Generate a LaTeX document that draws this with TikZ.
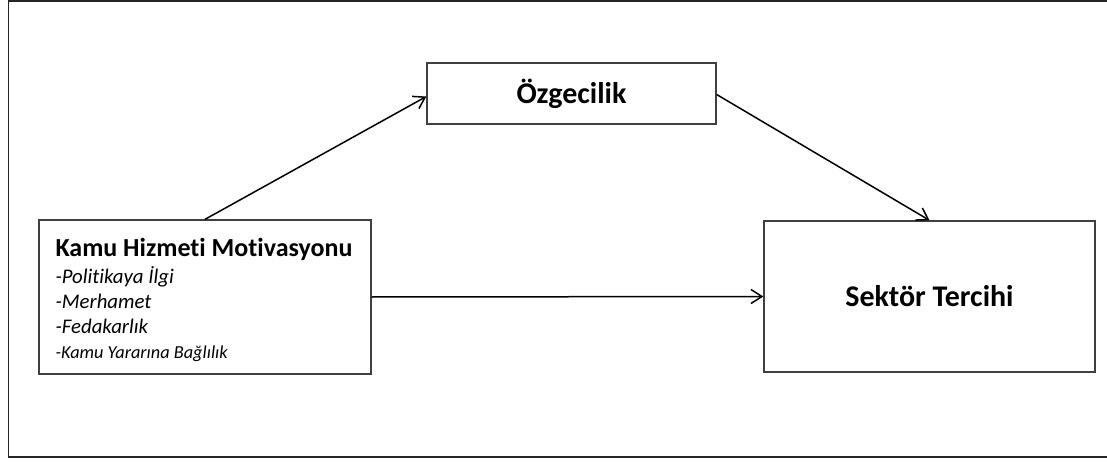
\documentclass[tikz,border=0pt]{standalone}
\usepackage{fontspec}
\setmainfont{Carlito}[Ligatures=NoCommon]
\usetikzlibrary{arrows.meta}
\newcommand{\madde}[2][20.8]{{\itshape\fontsize{#1}{25}\selectfont -#2}}

\begin{document}
\begin{tikzpicture}[x=1pt, y=1pt,
	kutu/.style={draw=black!75, line width=1.3pt, rectangle, inner sep=0pt},
	ok/.style={draw=black, line width=1.5pt, -{Straight Barb[length=11pt,width=14pt,line width=1.5pt]}}]

\useasboundingbox (0,0) rectangle (1107,461);
% cerceve
\draw[line width=1.8pt, black!85] (1110,460) -- (8.5,460) -- (8.5,4) -- (1110,4);

\node[kutu, minimum width=332pt, minimum height=154pt] (khm) at (205,164) {};
\node[align=left, inner sep=0pt, font=\fontsize{20.8}{25}\selectfont] (khmyazi)
	at ([xshift=-1pt,yshift=-3pt]khm.center)
	{{\bfseries\fontsize{26}{27}\selectfont Kamu Hizmeti Motivasyonu}\\[2pt]
	\madde{Politikaya İlgi}\\
	\madde{Merhamet}\\
	\madde{Fedakarlık}\\
	\madde[18.3]{Kamu Yararına Bağlılık}};
\node[kutu, minimum width=289pt, minimum height=61pt,
	font=\bfseries\fontsize{30}{32}\selectfont] (ozg) at (571.5,367.5) {Özgecilik};
\node[kutu, minimum width=331pt, minimum height=151pt,
	font=\bfseries\fontsize{30}{32}\selectfont] (sektor) at (929.5,164.5) {Sektör Tercihi};

\draw[ok] (khm.north) -- ([yshift=-3pt]ozg.west);
\draw[ok] ([yshift=-1pt]ozg.east) -- (sektor.north);
\draw[ok] (khm.east) -- (sektor.west);
\end{tikzpicture}
\end{document}
